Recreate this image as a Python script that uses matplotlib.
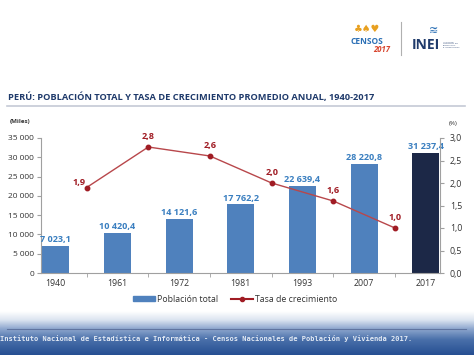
import numpy as np
import matplotlib.pyplot as plt
from matplotlib.ticker import FuncFormatter
from matplotlib.colors import LinearSegmentedColormap

plt.rcParams['font.family'] = ['Open Sans', 'DejaVu Sans']

# === Datos ===
anios = ["1940", "1961", "1972", "1981", "1993", "2007", "2017"]
poblacion = [7023.1, 10420.4, 14121.6, 17762.2, 22639.4, 28220.8, 31237.4]
tasa = [1.9, 2.8, 2.6, 2.0, 1.6, 1.0]

COL_BAR = "#4f81bd"
COL_LAST = "#1c2847"
COL_LAB = "#3a7fc0"
COL_LINE = "#b8474b"
COL_RED = "#a01c24"
COL_TITLE = "#1f3a6b"
COL_TXT = "#333333"


def miles(v):
    return f"{v:,.1f}".replace(",", " ").replace(".", ",")


fig = plt.figure(figsize=(4.74, 3.55), dpi=100)
fig.patch.set_facecolor("white")

# === Cabecera ===
fig.text(8 / 474, 1 - 97 / 355, "PERÚ: POBLACIÓN TOTAL Y TASA DE CRECIMIENTO PROMEDIO ANUAL, 1940-2017",
         fontsize=6.7, fontweight="bold", color=COL_TITLE, va="center", ha="left")
fig.add_artist(plt.Line2D([7 / 474, 465 / 474], [1 - 106 / 355] * 2, color="#c5cad6", lw=1.2))

# logos (aproximados con texto)
fig.text(367 / 474, 1 - 42 / 355, "CENSOS", fontsize=6, fontweight="bold", color="#2a6fb5",
         ha="center", va="center")
fig.text(382 / 474, 1 - 50 / 355, "2017", fontsize=5.5, fontweight="bold", style="italic",
         color="#d8452e", ha="center", va="center")
fig.text(367 / 474, 1 - 29 / 355, "♣♠♥", fontsize=7, color="#e8a020", ha="center", va="center",
         family="DejaVu Sans")
fig.add_artist(plt.Line2D([401 / 474] * 2, [1 - 22 / 355, 1 - 55 / 355], color="#b0b0b0", lw=0.8))
fig.text(426 / 474, 1 - 45 / 355, "INEI", fontsize=10, fontweight="bold", color=COL_TITLE,
         ha="center", va="center")
fig.text(433 / 474, 1 - 31 / 355, "≋", fontsize=8, color="#2a6fb5", ha="center", va="center",
         family="DejaVu Sans")
fig.text(443 / 474, 1 - 45 / 355, "INSTITUTO\nNACIONAL DE\nESTADÍSTICA\nE INFORMÁTICA",
         fontsize=1.6, color=COL_TITLE, ha="left", va="center", linespacing=1.1)

# === Grafico ===
ax = fig.add_axes([41 / 474, 1 - 273 / 355, 399 / 474, 135 / 355])
x = np.arange(len(anios))
colores = [COL_BAR] * (len(anios) - 1) + [COL_LAST]
ax.bar(x, poblacion, width=0.44, color=colores, zorder=2)
for xi, v in zip(x, poblacion):
    ax.text(xi, v + 500, miles(v), ha="center", va="bottom", fontsize=6.6,
            fontweight="bold", color=COL_LAB)

ax.set_xlim(-0.24, 6.23)
ax.set_ylim(0, 35000)
ax.set_yticks(np.arange(0, 35001, 5000))
ax.yaxis.set_major_formatter(FuncFormatter(lambda v, p: f"{int(v):,}".replace(",", " ")))
ax.set_xticks(x)
ax.set_xticklabels(anios)
ax.set_xticks(np.arange(0.5, 6, 1), minor=True)
ax.tick_params(axis="x", which="major", length=0, labelsize=6.3, colors=COL_TXT, pad=4)
ax.tick_params(axis="x", which="minor", length=3, color="#a0a0a0", direction="out")
ax.tick_params(axis="y", length=3, color="#a0a0a0", labelsize=6, colors=COL_TXT, pad=2)
for s in ["top", "right"]:
    ax.spines[s].set_visible(False)
for s in ["left", "bottom"]:
    ax.spines[s].set_color("#a0a0a0")
    ax.spines[s].set_linewidth(0.8)

ax2 = ax.twinx()
xt = x[:-1] + 0.5
ax2.plot(xt, tasa, color=COL_LINE, lw=1.0, marker="o", ms=3.2, mfc=COL_RED, mec=COL_RED, zorder=3)
for i, (xi, v) in enumerate(zip(xt, tasa)):
    dx, dy = (-0.12, 0.11) if i == 0 else (0.0, 0.23)
    ax2.text(xi + dx, v + dy, f"{v:.1f}".replace(".", ","), ha="center", va="center",
             fontsize=6.6, fontweight="bold", color=COL_RED)
ax2.set_ylim(0, 3.0)
ax2.set_yticks(np.arange(0, 3.01, 0.5))
ax2.yaxis.set_major_formatter(FuncFormatter(lambda v, p: f"{v:.1f}".replace(".", ",")))
ax2.tick_params(axis="y", length=3, color="#a0a0a0", labelsize=6.3, colors=COL_TXT, pad=4)
for s in ["top", "left", "bottom"]:
    ax2.spines[s].set_visible(False)
ax2.spines["right"].set_color("#a0a0a0")
ax2.spines["right"].set_linewidth(0.8)

fig.text(10 / 474, 1 - 122 / 355, "(Miles)", fontsize=4.5, fontweight="bold", color=COL_TXT,
         ha="left", va="center")
fig.text(453 / 474, 1 - 123 / 355, "(%)", fontsize=4.5, color=COL_TXT, ha="center", va="center")

# === Leyenda ===
h1 = plt.Rectangle((0, 0), 1, 1, color=COL_BAR)
h2 = plt.Line2D([], [], color=COL_RED, lw=1.5, marker="o", ms=3)
fig.legend([h1, h2], ["Población total", "Tasa de crecimiento"], loc="center",
           bbox_to_anchor=(235 / 474, 1 - 299 / 355), ncol=2, frameon=False, fontsize=6.3,
           handlelength=2.5, handleheight=0.5, handletextpad=0.2, columnspacing=1.5,
           labelcolor=COL_TXT)

# === Pie con degradado ===
fax = fig.add_axes([0, 0, 1, 44 / 355])
grad = np.linspace(0, 1, 100).reshape(-1, 1)
cmap = LinearSegmentedColormap.from_list(
    "pie", [(0, "#264f92"), (0.35, "#4a70aa"), (0.6, "#8fa8cf"), (0.8, "#dbe4f0"), (1, "#ffffff")])
fax.imshow(grad, aspect="auto", cmap=cmap, extent=[0, 1, 0, 1], origin="lower")
fax.set_xlim(0, 1)
fax.set_ylim(0, 1)
fax.axis("off")
fig.add_artist(plt.Line2D([7 / 474, 466 / 474], [1 - 329 / 355] * 2, color="#5f74a0", lw=0.8))
fig.text(0.0, 1 - 339 / 355,
         "Instituto Nacional de Estadística e Informática - Censos Nacionales de Población y Vivienda 2017.",
         fontsize=5, fontweight="bold", color="#e4ebf5", ha="left", va="center",
         family="DejaVu Sans Mono")

fig.savefig("out.png", dpi=100)
